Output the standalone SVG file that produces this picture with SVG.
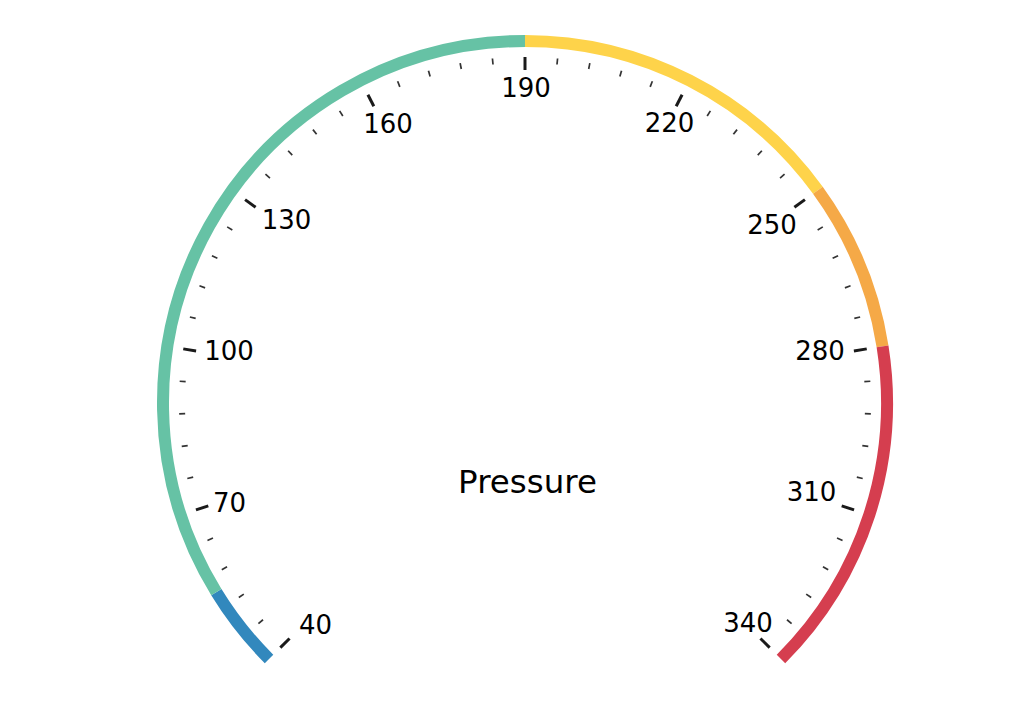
<svg xmlns="http://www.w3.org/2000/svg" width="1028" height="720" viewBox="0 0 1028 720">
<style>
.band{fill:none;stroke-width:12;stroke-linecap:butt}
.maj{stroke:#1a1a1a;stroke-width:3}
.min{stroke:#333;stroke-width:1.7}
.lbl{font-family:"DejaVu Sans",Verdana,sans-serif;font-size:26px;fill:#000;text-anchor:middle}
.title{font-family:"DejaVu Sans",Verdana,sans-serif;font-size:32.5px;fill:#000;text-anchor:middle}
</style>
<rect width="1028" height="720" fill="#fff"/>
<g id="bands">
<path class="band" stroke="#3288bd" d="M269.03 658.97 A362 362 0 0 1 216.34 592.15"/>
<path class="band" stroke="#66c2a5" d="M216.34 592.15 A362 362 0 0 1 525 41"/>
<path class="band" stroke="#fed34a" d="M525 41 A362 362 0 0 1 817.86 190.22"/>
<path class="band" stroke="#f5a947" d="M817.86 190.22 A362 362 0 0 1 882.54 346.37"/>
<path class="band" stroke="#d53e4f" d="M882.54 346.37 A362 362 0 0 1 780.97 658.97"/>
</g>
<g id="ticks">
<line class="maj" x1="525" y1="57" x2="525" y2="70" transform="rotate(-135 525 403)"/>
<line class="min" x1="525" y1="57" x2="525" y2="63" transform="rotate(-129.6 525 403)"/>
<line class="min" x1="525" y1="57" x2="525" y2="63" transform="rotate(-124.2 525 403)"/>
<line class="min" x1="525" y1="57" x2="525" y2="63" transform="rotate(-118.8 525 403)"/>
<line class="min" x1="525" y1="57" x2="525" y2="63" transform="rotate(-113.4 525 403)"/>
<line class="maj" x1="525" y1="57" x2="525" y2="70" transform="rotate(-108 525 403)"/>
<line class="min" x1="525" y1="57" x2="525" y2="63" transform="rotate(-102.6 525 403)"/>
<line class="min" x1="525" y1="57" x2="525" y2="63" transform="rotate(-97.2 525 403)"/>
<line class="min" x1="525" y1="57" x2="525" y2="63" transform="rotate(-91.8 525 403)"/>
<line class="min" x1="525" y1="57" x2="525" y2="63" transform="rotate(-86.4 525 403)"/>
<line class="maj" x1="525" y1="57" x2="525" y2="70" transform="rotate(-81 525 403)"/>
<line class="min" x1="525" y1="57" x2="525" y2="63" transform="rotate(-75.6 525 403)"/>
<line class="min" x1="525" y1="57" x2="525" y2="63" transform="rotate(-70.2 525 403)"/>
<line class="min" x1="525" y1="57" x2="525" y2="63" transform="rotate(-64.8 525 403)"/>
<line class="min" x1="525" y1="57" x2="525" y2="63" transform="rotate(-59.4 525 403)"/>
<line class="maj" x1="525" y1="57" x2="525" y2="70" transform="rotate(-54 525 403)"/>
<line class="min" x1="525" y1="57" x2="525" y2="63" transform="rotate(-48.6 525 403)"/>
<line class="min" x1="525" y1="57" x2="525" y2="63" transform="rotate(-43.2 525 403)"/>
<line class="min" x1="525" y1="57" x2="525" y2="63" transform="rotate(-37.8 525 403)"/>
<line class="min" x1="525" y1="57" x2="525" y2="63" transform="rotate(-32.4 525 403)"/>
<line class="maj" x1="525" y1="57" x2="525" y2="70" transform="rotate(-27 525 403)"/>
<line class="min" x1="525" y1="57" x2="525" y2="63" transform="rotate(-21.6 525 403)"/>
<line class="min" x1="525" y1="57" x2="525" y2="63" transform="rotate(-16.2 525 403)"/>
<line class="min" x1="525" y1="57" x2="525" y2="63" transform="rotate(-10.8 525 403)"/>
<line class="min" x1="525" y1="57" x2="525" y2="63" transform="rotate(-5.4 525 403)"/>
<line class="maj" x1="525" y1="57" x2="525" y2="70"/>
<line class="min" x1="525" y1="57" x2="525" y2="63" transform="rotate(5.4 525 403)"/>
<line class="min" x1="525" y1="57" x2="525" y2="63" transform="rotate(10.8 525 403)"/>
<line class="min" x1="525" y1="57" x2="525" y2="63" transform="rotate(16.2 525 403)"/>
<line class="min" x1="525" y1="57" x2="525" y2="63" transform="rotate(21.6 525 403)"/>
<line class="maj" x1="525" y1="57" x2="525" y2="70" transform="rotate(27 525 403)"/>
<line class="min" x1="525" y1="57" x2="525" y2="63" transform="rotate(32.4 525 403)"/>
<line class="min" x1="525" y1="57" x2="525" y2="63" transform="rotate(37.8 525 403)"/>
<line class="min" x1="525" y1="57" x2="525" y2="63" transform="rotate(43.2 525 403)"/>
<line class="min" x1="525" y1="57" x2="525" y2="63" transform="rotate(48.6 525 403)"/>
<line class="maj" x1="525" y1="57" x2="525" y2="70" transform="rotate(54 525 403)"/>
<line class="min" x1="525" y1="57" x2="525" y2="63" transform="rotate(59.4 525 403)"/>
<line class="min" x1="525" y1="57" x2="525" y2="63" transform="rotate(64.8 525 403)"/>
<line class="min" x1="525" y1="57" x2="525" y2="63" transform="rotate(70.2 525 403)"/>
<line class="min" x1="525" y1="57" x2="525" y2="63" transform="rotate(75.6 525 403)"/>
<line class="maj" x1="525" y1="57" x2="525" y2="70" transform="rotate(81 525 403)"/>
<line class="min" x1="525" y1="57" x2="525" y2="63" transform="rotate(86.4 525 403)"/>
<line class="min" x1="525" y1="57" x2="525" y2="63" transform="rotate(91.8 525 403)"/>
<line class="min" x1="525" y1="57" x2="525" y2="63" transform="rotate(97.2 525 403)"/>
<line class="min" x1="525" y1="57" x2="525" y2="63" transform="rotate(102.6 525 403)"/>
<line class="maj" x1="525" y1="57" x2="525" y2="70" transform="rotate(108 525 403)"/>
<line class="min" x1="525" y1="57" x2="525" y2="63" transform="rotate(113.4 525 403)"/>
<line class="min" x1="525" y1="57" x2="525" y2="63" transform="rotate(118.8 525 403)"/>
<line class="min" x1="525" y1="57" x2="525" y2="63" transform="rotate(124.2 525 403)"/>
<line class="min" x1="525" y1="57" x2="525" y2="63" transform="rotate(129.6 525 403)"/>
<line class="maj" x1="525" y1="57" x2="525" y2="70" transform="rotate(135 525 403)"/>
</g>
<g id="labels">
<text class="lbl" x="315.5" y="634">40</text>
<text class="lbl" x="229.5" y="512">70</text>
<text class="lbl" x="229" y="360">100</text>
<text class="lbl" x="286.5" y="229">130</text>
<text class="lbl" x="388" y="133">160</text>
<text class="lbl" x="526" y="97">190</text>
<text class="lbl" x="669.5" y="132">220</text>
<text class="lbl" x="772" y="234">250</text>
<text class="lbl" x="820" y="360">280</text>
<text class="lbl" x="811.5" y="501">310</text>
<text class="lbl" x="748" y="632">340</text>
</g>
<g id="title">
<text class="title" x="527.5" y="493">Pressure</text>
</g>
</svg>
